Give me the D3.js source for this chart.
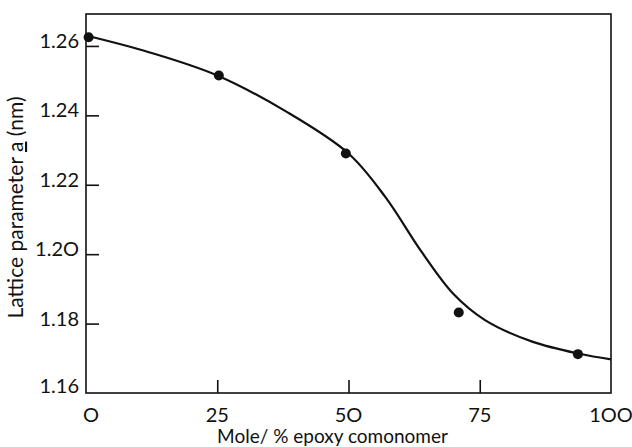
<!DOCTYPE html>
<html>
<head>
<meta charset="utf-8">
<script src="https://cdn.jsdelivr.net/npm/d3@7"></script>
<style>
  body { margin: 0; background: #fff; }
  text { font-family: "Lato", "DejaVu Sans", sans-serif; fill: #111; }
</style>
</head>
<body>
<div id="chart"></div>
<script>
var margin = {top: 14, right: 21, bottom: 54, left: 86};
var width = 632 - margin.left - margin.right;
var height = 447 - margin.top - margin.bottom;

// measured points
var moleX = [0.5, 25.3, 49.5, 71, 93.7];
var latticeA = [1.2625, 1.2515, 1.229, 1.1832, 1.1712];

// hand-drawn fitted curve
var curveX = [0, 12, 25, 38, 50, 57, 64, 70, 76, 85, 94, 100];
var curveY = [1.263, 1.2582, 1.2515, 1.2412, 1.229, 1.2165, 1.2005, 1.1885, 1.181, 1.1748, 1.1713, 1.1697];

var xTicks = [25, 50, 75];
var yTicks = [1.18, 1.20, 1.22, 1.24, 1.26];
var xLabels = ["O", "25", "5O", "75", "1OO"];
var xLabelVals = [0, 25, 50, 75, 100];
var yLabels = ["1.16", "1.18", "1.2O", "1.22", "1.24", "1.26"];
var yLabelVals = [1.16, 1.18, 1.20, 1.22, 1.24, 1.26];

var svg = d3.select("#chart")
  .append("svg")
  .attr("width", 632)
  .attr("height", 447)
  .append("g")
  .attr("transform", "translate(" + margin.left + "," + margin.top + ")");

var x = d3.scaleLinear().domain([0, 100]).range([0, width]);
var y = d3.scaleLinear().domain([1.16, 1.2692]).range([height, 0]);

// frame
svg.append("rect")
  .attr("width", width)
  .attr("height", height)
  .attr("fill", "none")
  .attr("stroke", "#111")
  .attr("stroke-width", 1.6);

// inward ticks
svg.append("g")
  .attr("transform", "translate(0," + height + ")")
  .call(d3.axisTop(x).tickValues(xTicks).tickSize(13).tickFormat(""))
  .call(function(g) { g.select(".domain").remove(); })
  .selectAll("line").attr("stroke", "#111").attr("stroke-width", 1.6);

svg.append("g")
  .call(d3.axisRight(y).tickValues(yTicks).tickSize(13).tickFormat(""))
  .call(function(g) { g.select(".domain").remove(); })
  .selectAll("line").attr("stroke", "#111").attr("stroke-width", 1.6);

// tick labels
svg.selectAll(".xl")
  .data(xLabelVals)
  .enter().append("text")
  .attr("x", function(d, i) { return x(d) + (i == 0 ? 5 : 0); })
  .attr("y", height + 29)
  .attr("text-anchor", "middle")
  .style("font-size", "20px")
  .text(function(d, i) { return xLabels[i]; });

svg.selectAll(".yl")
  .data(yLabelVals)
  .enter().append("text")
  .attr("x", -7)
  .attr("y", function(d, i) { return y(d) + (i == 0 ? 0 : 2); })
  .attr("text-anchor", "end")
  .style("font-size", "20px")
  .text(function(d, i) { return yLabels[i]; });

// axis titles
svg.append("text")
  .attr("x", width / 2 - 16)
  .attr("y", height + 50)
  .attr("text-anchor", "middle")
  .style("font-size", "19px")
  .text("Mole/ % epoxy comonomer");

var yTitle = svg.append("text")
  .attr("transform", "translate(-63," + (height / 2 + 4) + ") rotate(-90)")
  .attr("text-anchor", "middle")
  .style("font-size", "21px");
yTitle.append("tspan").text("Lattice parameter ");
yTitle.append("tspan").style("text-decoration", "underline").text("a");
yTitle.append("tspan").text(" (nm)");

// curve
var curveData = curveX.map(function(d, i) { return [d, curveY[i]]; });
svg.append("path")
  .datum(curveData)
  .attr("fill", "none")
  .attr("stroke", "#111")
  .attr("stroke-width", 2.2)
  .attr("d", d3.line()
    .x(function(d) { return x(d[0]); })
    .y(function(d) { return y(d[1]); })
    .curve(d3.curveCatmullRom.alpha(0.5)));

// points
svg.selectAll(".pt")
  .data(moleX)
  .enter().append("circle")
  .attr("cx", function(d) { return x(d); })
  .attr("cy", function(d, i) { return y(latticeA[i]); })
  .attr("r", 5)
  .attr("fill", "#111");
</script>
</body>
</html>
